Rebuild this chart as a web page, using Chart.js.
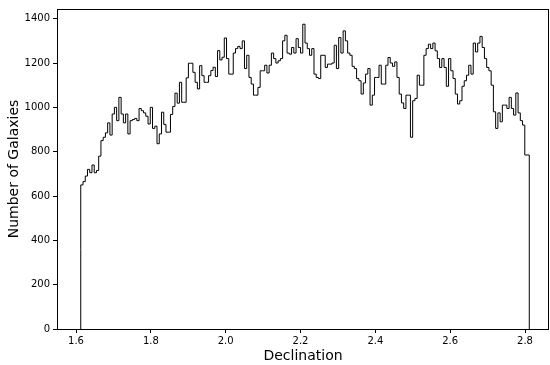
<!DOCTYPE html>
<html>
<head>
<meta charset="utf-8">
<script src="https://cdn.jsdelivr.net/npm/chart.js@4/dist/chart.umd.min.js"></script>
<style>
  html, body { margin: 0; padding: 0; background: #fff; }
  #wrap { width: 550px; height: 365px; position: relative; }
</style>
</head>
<body>
<div id="wrap"><canvas id="hist"></canvas></div>
<script>
// histogram range (declination), 200 bins, counts
const binStart = 1.6127;
const binEnd = 2.8114;
const counts = [
  360, 650, 665, 690, 720, 705, 740, 705, 715, 780, 850, 865, 885, 930, 875, 970, 1000, 940, 1045, 970,
  930, 970, 880, 940, 945, 950, 940, 995, 985, 975, 960, 925, 1000,
  905, 915, 836, 880, 978, 923, 888, 888, 968, 1004, 1064, 1019, 1113, 1023, 1023, 1133, 1199, 1199, 1158, 1113,
  1083, 1188, 1143, 1113, 1113, 1143, 1166, 1181, 1139, 1256, 1214, 1226, 1313,
  1220, 1150, 1150, 1245, 1265, 1275, 1265, 1300, 1175, 1235, 1135, 1105, 1055, 1055, 1090, 1165, 1165, 1190, 1155, 1190,
  1245, 1220, 1200, 1210, 1220, 1300, 1325, 1245, 1240, 1270, 1245, 1310, 1270, 1245, 1375,
  1290, 1265, 1235, 1265, 1150, 1135, 1130, 1235, 1235, 1180, 1195, 1195, 1200, 1280, 1175, 1315, 1245, 1345, 1300, 1245,
  1235, 1185, 1175, 1130, 1120, 1060, 1110, 1150, 1175, 1010, 1055, 1135, 1135,
  1190, 1105, 1105, 1190, 1225, 1200, 1185, 1205, 1135, 1060, 1020, 995, 1055, 1055, 865, 1030, 1040, 1145, 1100, 1100,
  1235, 1265, 1285, 1265, 1290, 1255, 1220, 1180, 1220, 1180, 1095, 1220,
  1165, 1130, 1060, 1015, 1030, 1095, 1120, 1145, 1190, 1150, 1290, 1250, 1290, 1320, 1270, 1220, 1180, 1165, 1100, 980,
  905, 975, 935, 1010, 1010, 995, 1045, 995, 965, 1065, 975, 940, 920, 785
];
const xTicks = [1.6, 1.8, 2.0, 2.2, 2.4, 2.6, 2.8];
const yTicks = [0, 200, 400, 600, 800, 1000, 1200, 1400];

// step outline: start on the baseline, one point per bin edge, back to the baseline
let width = (binEnd - binStart) / counts.length;
let pts = [{x: binStart, y: 0}];
counts.forEach(function(c, i){
    pts.push({x: binStart + i * width, y: c});
});
pts.push({x: binEnd, y: counts[counts.length - 1]});
pts.push({x: binEnd, y: 0});

let ymax = Math.max.apply(null, counts) * 1.05;

// four spines like matplotlib
const frame = {
    id: 'frame',
    afterDraw(chart){
        let a = chart.chartArea, ctx = chart.ctx;
        ctx.save();
        ctx.strokeStyle = '#000';
        ctx.lineWidth = 1;
        ctx.strokeRect(Math.round(a.left) + 0.5, Math.round(a.top) + 0.5,
            Math.round(a.right - a.left) - 1, Math.round(a.bottom - a.top));
        ctx.restore();
    }
};

Chart.defaults.font.family = '"DejaVu Sans", sans-serif';
Chart.defaults.color = '#000';

new Chart(document.getElementById('hist'), {
    type: 'scatter',
    data: {
        datasets: [{
            data: pts,
            showLine: true,
            stepped: 'after',
            borderColor: '#000',
            borderWidth: 1,
            pointRadius: 0,
            fill: false
        }]
    },
    options: {
        responsive: true,
        maintainAspectRatio: false,
        animation: false,
        layout: {padding: {top: 8, right: 1, left: 0, bottom: 0}},
        plugins: {legend: {display: false}, tooltip: {enabled: false}},
        scales: {
            x: {
                type: 'linear',
                min: 1.5492,
                max: 2.8641,
                afterBuildTicks: function(s){ s.ticks = xTicks.map(v => ({value: v})); },
                afterFit: function(s){ s.height = 36; },
                ticks: {
                    font: {size: 10},
                    padding: 2,
                    maxRotation: 0,
                    callback: v => v.toFixed(1)
                },
                grid: {drawOnChartArea: false, drawTicks: true, tickLength: 4, tickColor: '#000'},
                border: {display: false},
                title: {display: true, text: 'Declination', font: {size: 14}, padding: {top: 0, bottom: 0}}
            },
            y: {
                type: 'linear',
                min: 0,
                max: ymax,
                afterBuildTicks: function(s){ s.ticks = yTicks.map(v => ({value: v})); },
                afterFit: function(s){ s.width = 57; },
                ticks: {font: {size: 10}, padding: 3, callback: v => String(v)},
                grid: {drawOnChartArea: false, drawTicks: true, tickLength: 4, tickColor: '#000'},
                border: {display: false},
                title: {display: true, text: 'Number of Galaxies', font: {size: 14}, padding: {top: 6, bottom: 0}}
            }
        }
    },
    plugins: [frame]
});
</script>
</body>
</html>
